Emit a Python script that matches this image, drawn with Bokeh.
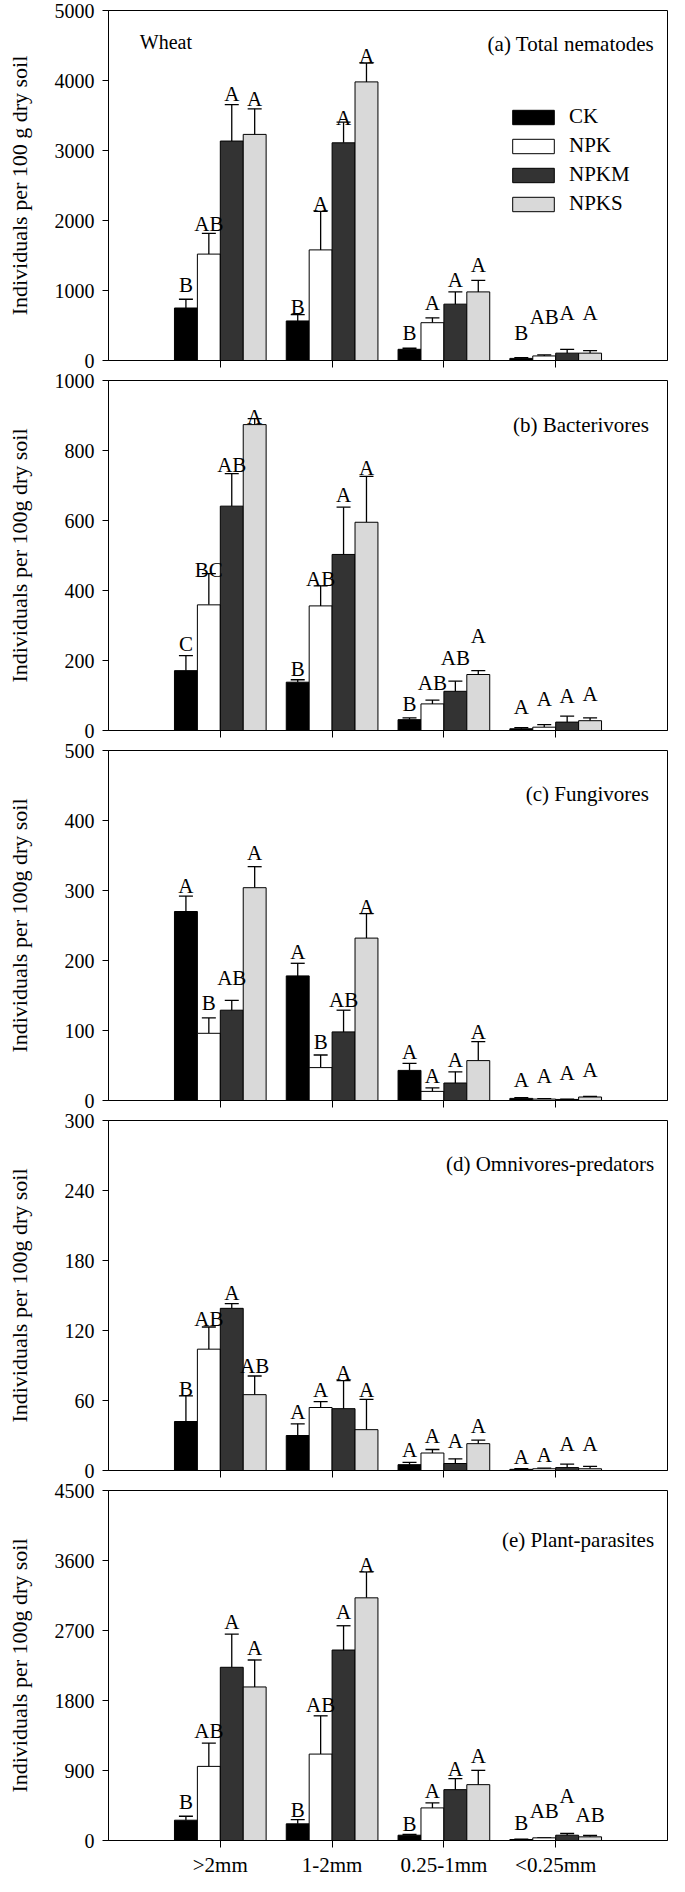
import numpy as np
from bokeh.plotting import figure
from bokeh.models import (Range1d, FixedTicker, ColumnDataSource, Whisker, TeeHead,
                          Legend, LegendItem, Label)
from bokeh.layouts import column
from bokeh.embed import file_html
from bokeh.resources import INLINE
from bokeh.core.properties import value

# ---------------- data ----------------
size_classes = [">2mm", "1-2mm", "0.25-1mm", "<0.25mm"]
treatments = ["CK", "NPK", "NPKM", "NPKS"]
bar_colors = ["#000000", "#ffffff", "#333333", "#d9d9d9"]

# (a) Total nematodes  -- rows: CK, NPK, NPKM, NPKS ; cols: size classes
total_mean = [[750, 565, 160, 30], [1520, 1580, 540, 65], [3135, 3110, 805, 105], [3230, 3980, 980, 105]]
total_err = [[125, 90, 15, 10], [295, 550, 70, 15], [520, 295, 175, 55], [365, 270, 165, 35]]
total_letters = [["B", "B", "B", "B"], ["AB", "A", "A", "AB"], ["A", "A", "A", "A"], ["A", "A", "A", "A"]]
total_label_y = [[1076, 768, 389, 389], [1952, 2237, 815, 626], [3801, 3469, 1147, 673], [3730, 4346, 1360, 673]]

# (b) Bacterivores
bact_mean = [[171, 138, 31, 5], [359, 356, 76, 9.5], [641, 503, 112, 24], [874, 595, 160, 28]]
bact_err = [[43, 7, 5, 3], [89, 57, 11, 7.5], [93, 135, 29, 17], [17, 131, 11, 8]]
bact_letters = [["C", "B", "B", "A"], ["BC", "AB", "AB", "A"], ["AB", "A", "AB", "A"], ["A", "A", "A", "A"]]
bact_label_y = [[247, 176, 76, 66], [458, 434, 135, 90], [758, 672, 206, 100], [897, 750, 271, 104]]

# (c) Fungivores
fung_mean = [[270, 178, 43, 3], [96, 47, 13, 2], [129, 98, 25, 1.5], [304, 232, 57, 5]]
fung_err = [[22, 18, 10, 1], [22, 18, 5, 0.5], [14, 31, 16, 0.5], [30, 35, 27, 1]]
fung_letters = [["A", "A", "A", "A"], ["B", "B", "A", "A"], ["AB", "AB", "A", "A"], ["A", "A", "A", "A"]]
fung_label_y = [[307, 212, 69, 30], [139, 83, 35, 35], [175, 143, 58, 39], [354, 277, 98, 43]]

# (d) Omnivores-predators
omni_mean = [[42, 30, 5, 1], [104, 54, 15, 1.5], [139, 53, 6, 2.5], [65, 35, 23, 1.5]]
omni_err = [[22, 10, 2, 0.5], [19, 5, 3, 0.5], [4, 24, 4, 3], [16, 26, 3, 2]]
omni_letters = [["B", "A", "A", "A"], ["AB", "A", "A", "A"], ["A", "A", "A", "A"], ["AB", "A", "A", "A"]]
omni_label_y = [[70, 50, 18, 12], [130, 69, 30, 13], [152, 84, 25, 23], [90, 69, 38, 23]]

# (e) Plant-parasites
plant_mean = [[261, 214, 68, 13], [953, 1111, 419, 34], [2227, 2449, 654, 68], [1974, 3120, 718, 47]]
plant_err = [[51, 55, 9, 5], [299, 492, 64, 4], [427, 312, 141, 22], [347, 333, 184, 17]]
plant_letters = [["B", "B", "B", "B"], ["AB", "AB", "A", "AB"], ["A", "A", "A", "A"], ["A", "A", "A", "AB"]]
plant_label_y = [[496, 397, 214, 226], [1402, 1744, 641, 376], [2812, 2940, 923, 568], [2470, 3538, 1090, 333]]

panel_titles = ["(a) Total nematodes", "(b)  Bacterivores", "(c)  Fungivores",
                "(d) Omnivores-predators", "(e) Plant-parasites"]
y_maxes = [5000, 1000, 500, 300, 4500]
y_ticks = [[0, 1000, 2000, 3000, 4000, 5000], [0, 200, 400, 600, 800, 1000],
           [0, 100, 200, 300, 400, 500], [0, 60, 120, 180, 240, 300],
           [0, 900, 1800, 2700, 3600, 4500]]
y_labels = ["Individuals per 100 g dry soil"] + ["Individuals per 100g dry soil"] * 4

# ---------------- style ----------------
FONT_NAME = "Liberation Serif"
FONT = value(FONT_NAME)
BAR_W = 0.205
group_x = [1, 2, 3, 4]


def make_panel(idx, means, errs, letters, label_y, top_b, bot_b, title_frac,
               xlabels=False, wheat=False, legend=False):
    ymax = y_maxes[idx]
    p = figure(frame_width=559, frame_height=350,
               x_range=Range1d(0, 5), y_range=Range1d(0, ymax),
               output_backend="svg", toolbar_location=None,
               min_border_left=108, min_border_right=2,
               min_border_top=top_b, min_border_bottom=bot_b)
    p.xgrid.visible = False
    p.ygrid.visible = False
    p.outline_line_color = "black"
    p.outline_line_width = 1
    p.background_fill_color = "white"

    all_x, all_lo, all_up, all_txt, all_ly = [], [], [], [], []
    renderers = []
    for i, t in enumerate(treatments):
        xs = [g + (i - 1.5) * BAR_W for g in group_x]
        src = ColumnDataSource(dict(x=xs, top=means[i]))
        r = p.vbar(x="x", top="top", width=BAR_W, source=src,
                   fill_color=bar_colors[i], line_color="black", line_width=1)
        renderers.append(r)
        all_x += xs
        all_lo += list(means[i])
        all_up += [m + e for m, e in zip(means[i], errs[i])]
        all_txt += letters[i]
        all_ly += label_y[i]

    wsrc = ColumnDataSource(dict(x=all_x, lower=all_lo, upper=all_up,
                                 txt=all_txt, ly=all_ly))
    w = Whisker(source=wsrc, base="x", lower="lower", upper="upper",
                dimension="height", line_color="black", line_width=1.3,
                upper_head=TeeHead(size=14, line_color="black", line_width=1.3),
                lower_head=None)
    p.add_layout(w)
    p.text(x="x", y="ly", text="txt", source=wsrc, text_align="center",
           text_baseline="alphabetic", text_font=FONT,
           text_font_size=value("21px"), text_color="black")

    p.add_layout(Label(x=4.88, y=ymax * title_frac, text=panel_titles[idx],
                       text_align="right", text_baseline="alphabetic",
                       text_font=FONT_NAME, text_font_size="21px", text_color="black"))
    if wheat:
        p.add_layout(Label(x=0.28, y=ymax * 0.91, text="Wheat",
                           text_align="left", text_baseline="alphabetic",
                           text_font=FONT_NAME, text_font_size="20px", text_color="black"))
    if legend:
        lg = Legend(items=[LegendItem(label=t, renderers=[r]) for t, r in zip(treatments, renderers)],
                    location=(399, 144), glyph_width=52, glyph_height=18,
                    label_height=18, spacing=4, padding=0, margin=0,
                    label_standoff=10, border_line_alpha=0, background_fill_alpha=0,
                    label_text_font=FONT_NAME, label_text_font_size="21px",
                    label_text_color="black")
        p.add_layout(lg)

    # y axis
    yax = p.yaxis[0]
    yax.ticker = FixedTicker(ticks=y_ticks[idx])
    yax.minor_tick_line_color = None
    yax.major_tick_out = 6
    yax.major_tick_in = 0
    yax.major_label_standoff = 8
    yax.major_label_text_font = FONT_NAME
    yax.major_label_text_font_size = "20px"
    yax.major_label_text_color = "black"
    yax.axis_line_color = "black"
    yax.major_tick_line_color = "black"
    yax.axis_label = y_labels[idx]
    yax.axis_label_text_font = FONT_NAME
    yax.axis_label_text_font_size = "22px"
    yax.axis_label_text_font_style = "normal"
    yax.axis_label_text_color = "black"
    ndig = max(len(str(t)) for t in y_ticks[idx])
    yax.axis_label_standoff = 20 + (4 - ndig) * 10

    # x axis
    xax = p.xaxis[0]
    xax.ticker = FixedTicker(ticks=group_x)
    xax.minor_tick_line_color = None
    xax.major_tick_out = 7
    xax.major_tick_in = 0
    xax.axis_line_color = "black"
    xax.major_tick_line_color = "black"
    if xlabels:
        xax.major_label_overrides = {g: s for g, s in zip(group_x, size_classes)}
        xax.major_label_text_font = FONT_NAME
        xax.major_label_text_font_size = "21px"
        xax.major_label_text_color = "black"
        xax.major_label_standoff = 5
    else:
        # ticks only, no labels on the upper panels
        xax.major_label_text_font_size = "1px"
        xax.major_label_text_color = None
        xax.major_label_standoff = 0
    return p


pa = make_panel(0, total_mean, total_err, total_letters, total_label_y, 10, 10, 0.903,
                wheat=True, legend=True)
pb = make_panel(1, bact_mean, bact_err, bact_letters, bact_label_y, 10, 10, 0.872)
pc = make_panel(2, fung_mean, fung_err, fung_letters, fung_label_y, 10, 10, 0.875)
pd = make_panel(3, omni_mean, omni_err, omni_letters, omni_label_y, 10, 10, 0.875)
pe = make_panel(4, plant_mean, plant_err, plant_letters, plant_label_y, 10, 36, 0.858,
                xlabels=True)

layout = column(pa, pb, pc, pd, pe, spacing=0)
open("out.html", "w").write(file_html(layout, INLINE))
